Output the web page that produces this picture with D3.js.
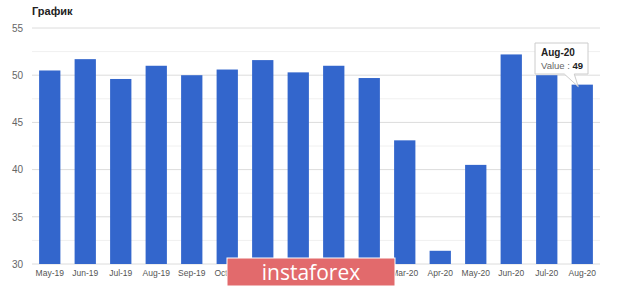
<!doctype html>
<html>
  <head>
    <script src="https://cdnjs.cloudflare.com/ajax/libs/d3/7.8.5/d3.min.js"></script>
    <style>
      body { margin: 0; background: #fff; font-family: Arial, "Liberation Sans", sans-serif; }
      .tick text { fill: #666; }
    </style>
  </head>
  <body>
    <svg id="chart" width="620" height="288"></svg>
    <script>
      // chart data
      let months = ["May-19","Jun-19","Jul-19","Aug-19","Sep-19","Oct-19","Nov-19","Dec-19",
                    "Jan-20","Feb-20","Mar-20","Apr-20","May-20","Jun-20","Jul-20","Aug-20"];
      let values = [50.5, 51.7, 49.6, 51.0, 50.0, 50.6, 51.6, 50.3,
                    51.0, 49.7, 43.1, 31.4, 40.5, 52.2, 50.0, 49.0];
      let yTicks = [30, 35, 40, 45, 50, 55];
      let minorTicks = [32.5, 37.5, 42.5, 47.5, 52.5];

      var svg = d3.select("#chart");

      var x = d3.scaleBand()
        .domain(months)
        .range([32, 600])
        .paddingInner(0.4)
        .paddingOuter(0.2);

      var y = d3.scaleLinear()
        .domain([30, 55])
        .range([264, 28]);

      // title
      svg.append("text")
        .attr("x", 32).attr("y", 15)
        .style("font-size", "11px").style("font-weight", "bold")
        .style("fill", "#222")
        .text("График");

      // grid lines
      svg.append("g").selectAll("line.minor")
        .data(minorTicks).enter().append("line")
          .attr("x1", 32).attr("x2", 600)
          .attr("y1", d => y(d)).attr("y2", d => y(d))
          .style("stroke", "#f0f0f0");
      svg.append("g").selectAll("line.major")
        .data(yTicks).enter().append("line")
          .attr("x1", 32).attr("x2", 600)
          .attr("y1", d => y(d)).attr("y2", d => y(d))
          .style("stroke", "#dcdcdc");

      // y labels
      var yAxis = svg.append("g")
        .attr("transform", "translate(23,0)")
        .call(d3.axisLeft(y).tickValues(yTicks).tickSize(0).tickPadding(0));
      yAxis.select(".domain").remove();
      yAxis.selectAll("text").style("font-size", "10px").style("fill", "#666");

      // bars
      svg.append("g").selectAll("rect")
        .data(values).enter().append("rect")
          .attr("x", (d, i) => x(months[i]))
          .attr("width", x.bandwidth())
          .attr("y", d => y(d))
          .attr("height", d => y(30) - y(d))
          .style("fill", "#3366cc");

      // x labels
      var xAxis = svg.append("g")
        .attr("transform", "translate(0,264)")
        .call(d3.axisBottom(x).tickSize(0).tickPadding(6));
      xAxis.select(".domain").remove();
      xAxis.selectAll("text").style("font-size", "8.5px").style("fill", "#555");

      // tooltip on last bar
      var last = months.length - 1;
      var tipX = 535, tipY = 43, tipW = 53, tipH = 31;
      var bx = x(months[last]) + x.bandwidth() / 2;
      var tip = svg.append("g");
      tip.append("path")
        .attr("d", "M" + tipX + "," + tipY + "h" + tipW + "v" + tipH +
                   "H" + (bx - 8) + "L" + (bx - 4) + "," + (y(values[last]) + 2) +
                   "L" + (bx - 18) + "," + (tipY + tipH) + "H" + tipX + "Z")
        .style("fill", "#fff").style("stroke", "#ccc").style("stroke-width", 1);
      tip.append("text")
        .attr("x", tipX + 6).attr("y", tipY + 13)
        .style("font-size", "10px").style("font-weight", "bold").style("fill", "#222")
        .text(months[last]);
      var vt = tip.append("text")
        .attr("x", tipX + 6).attr("y", tipY + 26)
        .style("font-size", "9.5px");
      vt.append("tspan").style("fill", "#666").text("Value : ");
      vt.append("tspan").style("fill", "#222").style("font-weight", "bold").text(d3.format("d")(values[last]));

      // watermark
      svg.append("rect")
        .attr("x", 227).attr("y", 258).attr("width", 168).attr("height", 28)
        .style("fill", "#e26a6c").style("stroke", "#fff").style("stroke-width", 1);
      svg.append("text")
        .attr("x", 311).attr("y", 280)
        .attr("text-anchor", "middle")
        .style("font-size", "21px").style("fill", "#fff")
        .style("font-family", "'Open Sans', sans-serif")
        .text("instaforex");
    </script>
  </body>
</html>
